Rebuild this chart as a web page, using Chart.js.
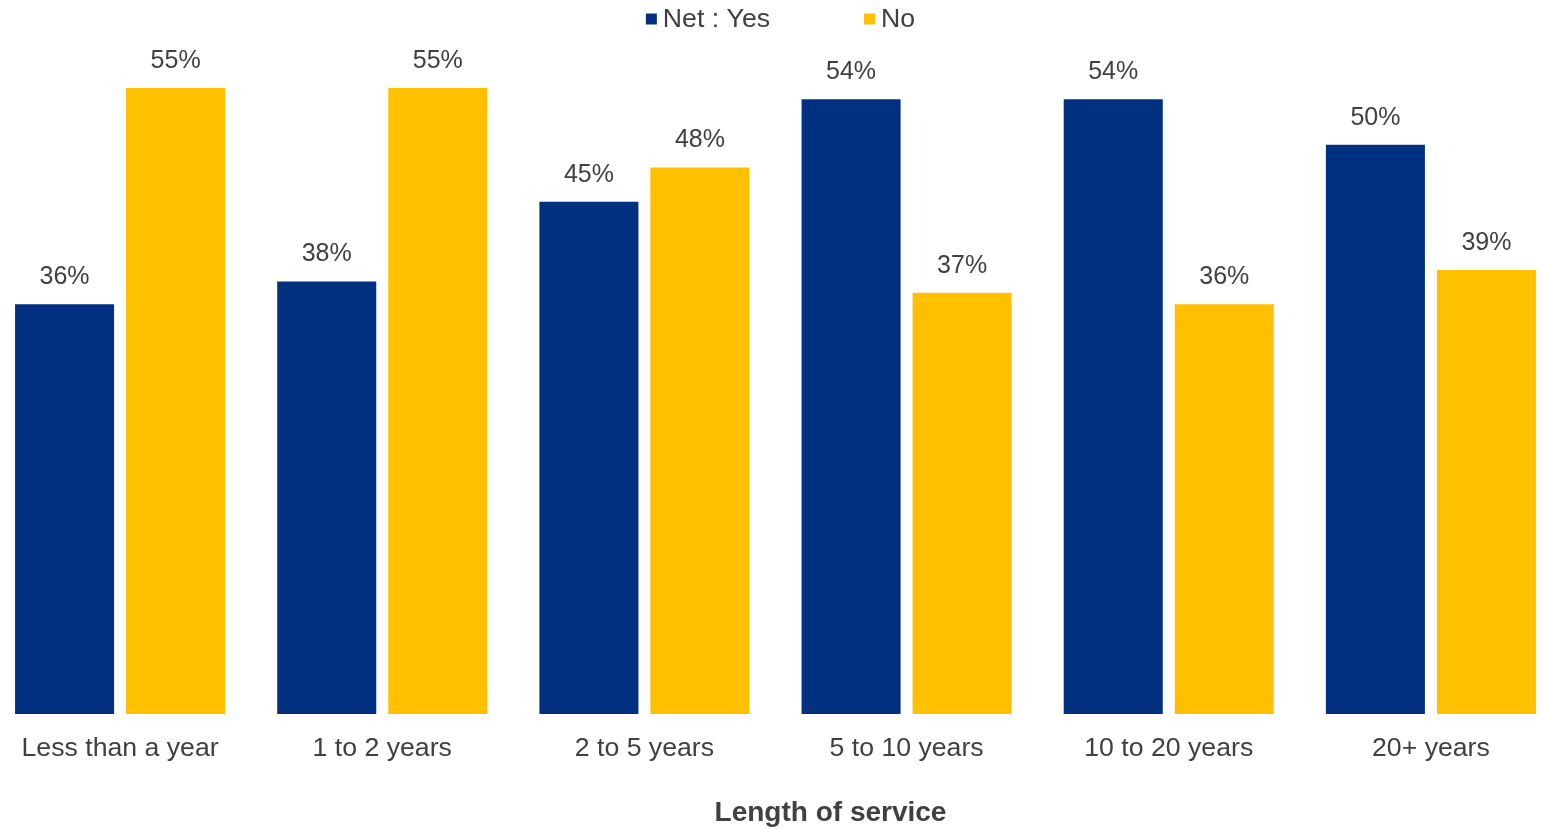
<!DOCTYPE html>
<html>
<head>
<meta charset="utf-8">
<title>Length of service</title>
<script src="https://cdn.jsdelivr.net/npm/chart.js@4.4.1/dist/chart.umd.min.js"></script>
<style>
  html, body { margin: 0; padding: 0; background: #fff; overflow: hidden; }
  #wrap { position: absolute; left: -11px; top: 0; width: 1573px; height: 829px; }
</style>
</head>
<body>
<div id="wrap"><canvas id="service-chart"></canvas></div>
<script>
const categories = ["Less than a year", "1 to 2 years", "2 to 5 years", "5 to 10 years", "10 to 20 years", "20+ years"];
const yesValues = [36, 38, 45, 54, 54, 50];
const noValues = [55, 55, 48, 37, 36, 39];
const seriesNames = ["Net : Yes", "No"];
const seriesColors = ["#00307F", "#FFC000"];
const axisTitle = "Length of service";

const FONT = "'Liberation Sans', Arial, sans-serif";
const TEXT = "#404040";

// value labels above each bar, small square legend on top, axis title underneath
const extras = {
    id: "extras",
    afterDatasetsDraw(chart) {
        const ctx = chart.ctx;
        ctx.save();
        ctx.fillStyle = TEXT;
        ctx.font = "25px " + FONT;
        ctx.textAlign = "center";
        ctx.textBaseline = "middle";
        chart.data.datasets.forEach((ds, i) => {
            chart.getDatasetMeta(i).data.forEach((bar, j) => {
                ctx.fillText(ds.data[j] + "%", bar.x, bar.y - 27);
            });
        });

        // legend
        ctx.font = "26.67px " + FONT;
        ctx.textAlign = "left";
        const box = 11, textGap = 6, itemGap = 94;
        const widths = chart.data.datasets.map(ds => box + textGap + ctx.measureText(ds.label).width);
        const total = widths.reduce((a, b) => a + b, 0) + itemGap * (widths.length - 1);
        let x = chart.width / 2 + 5 - total / 2;
        const ly = 19;
        chart.data.datasets.forEach((ds, i) => {
            ctx.fillStyle = ds.backgroundColor;
            ctx.fillRect(x, ly - box / 2, box, box);
            ctx.fillStyle = TEXT;
            ctx.fillText(ds.label, x + box + textGap, ly + 1);
            x += widths[i] + itemGap;
        });

        // x axis title
        ctx.font = "bold 28px " + FONT;
        ctx.textAlign = "center";
        ctx.fillText(axisTitle, chart.width / 2 + 55, 813);
        ctx.restore();
    }
};

new Chart(document.getElementById("service-chart").getContext("2d"), {
    type: "bar",
    data: {
        labels: categories,
        datasets: [
            { label: seriesNames[0], data: yesValues, backgroundColor: seriesColors[0] },
            { label: seriesNames[1], data: noValues, backgroundColor: seriesColors[1] }
        ]
    },
    options: {
        responsive: true,
        maintainAspectRatio: false,
        animation: false,
        categoryPercentage: 0.847,
        barPercentage: 0.892,
        layout: { padding: { top: 31, bottom: 53, left: 0, right: 0 } },
        plugins: {
            legend: { display: false },
            tooltip: { enabled: false }
        },
        scales: {
            x: {
                grid: { display: false },
                border: { display: false },
                ticks: {
                    color: TEXT,
                    padding: 11,
                    maxRotation: 0,
                    font: { family: FONT, size: 26.67 }
                }
            },
            y: {
                display: false,
                min: 0,
                max: 60
            }
        }
    },
    plugins: [extras]
});
</script>
</body>
</html>
